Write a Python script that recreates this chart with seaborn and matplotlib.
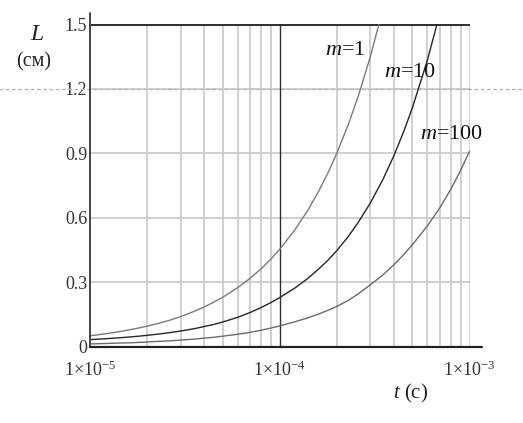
import numpy as np
import pandas as pd
import matplotlib
matplotlib.use("Agg")
import matplotlib.pyplot as plt
import seaborn as sns
from matplotlib.ticker import FixedLocator, NullFormatter, LogLocator

# ---- data ----
t_m1 = [1e-5, 1.2e-5, 1.4e-5, 1.6e-5, 1.8e-5, 2e-5, 2.3e-5, 2.6e-5, 3e-5, 3.5e-5, 4e-5,
        4.5e-5, 5e-5, 6e-5, 7e-5, 8e-5, 9e-5, 1e-4, 1.2e-4, 1.4e-4, 1.6e-4, 1.8e-4,
        2e-4, 2.3e-4, 2.6e-4, 3e-4, 3.5e-4]
L_m1 = [0.050, 0.059, 0.068, 0.077, 0.086, 0.095, 0.108, 0.121, 0.139, 0.162, 0.184,
        0.207, 0.229, 0.274, 0.319, 0.363, 0.408, 0.453, 0.543, 0.632, 0.722, 0.811,
        0.901, 1.035, 1.170, 1.349, 1.573]

t_m10 = [1e-5, 1.2e-5, 1.4e-5, 1.6e-5, 1.8e-5, 2e-5, 2.3e-5, 2.6e-5, 3e-5, 3.5e-5, 4e-5,
         4.5e-5, 5e-5, 6e-5, 7e-5, 8e-5, 9e-5, 1e-4, 1.2e-4, 1.4e-4, 1.6e-4, 1.8e-4,
         2e-4, 2.3e-4, 2.6e-4, 3e-4, 3.5e-4, 4e-4, 4.5e-4, 5e-4, 6e-4, 7e-4]
L_m10 = [0.032, 0.036, 0.040, 0.044, 0.048, 0.052, 0.058, 0.064, 0.072, 0.082, 0.093,
         0.103, 0.114, 0.136, 0.159, 0.182, 0.205, 0.228, 0.272, 0.316, 0.360, 0.403,
         0.447, 0.513, 0.580, 0.668, 0.779, 0.890, 1.001, 1.112, 1.334, 1.556]

t_m100 = [1e-5, 1.2e-5, 1.4e-5, 1.6e-5, 1.8e-5, 2e-5, 2.3e-5, 2.6e-5, 3e-5, 3.5e-5, 4e-5,
          4.5e-5, 5e-5, 6e-5, 7e-5, 8e-5, 9e-5, 1e-4, 1.2e-4, 1.4e-4, 1.6e-4, 1.8e-4,
          2e-4, 2.3e-4, 2.6e-4, 3e-4, 3.5e-4, 4e-4, 4.5e-4, 5e-4, 6e-4, 7e-4, 8e-4,
          9e-4, 1e-3]
L_m100 = [0.012, 0.014, 0.016, 0.017, 0.019, 0.021, 0.024, 0.026, 0.030, 0.034, 0.039,
          0.043, 0.048, 0.057, 0.066, 0.076, 0.086, 0.096, 0.115, 0.133, 0.151, 0.169,
          0.187, 0.215, 0.246, 0.287, 0.334, 0.381, 0.428, 0.474, 0.562, 0.648, 0.735,
          0.822, 0.910]

series_names = ["m=1", "m=10", "m=100"]
y_ticks = [0, 0.3, 0.6, 0.9, 1.2, 1.5]
y_tick_labels = ["0", "0.3", "0.6", "0.9", "1.2", "1.5"]
x_ticks = [1e-5, 1e-4, 1e-3]
x_tick_labels = [r"$1{\times}10^{-5}$", r"$1{\times}10^{-4}$", r"$1{\times}10^{-3}$"]
curve_labels = [r"$m$=1", r"$m$=10", r"$m$=100"]
label_pos = [(2.21e-4, 1.377), (4.88e-4, 1.275), (8.02e-4, 0.988)]

df = pd.concat([
    pd.DataFrame({"t": t_m1, "L": L_m1, "m": series_names[0]}),
    pd.DataFrame({"t": t_m10, "L": L_m10, "m": series_names[1]}),
    pd.DataFrame({"t": t_m100, "L": L_m100, "m": series_names[2]}),
])

sns.set_style("white")
plt.rcParams["font.family"] = ["Liberation Serif", "DejaVu Serif"]
plt.rcParams["mathtext.fontset"] = "custom"
plt.rcParams["mathtext.rm"] = "Liberation Serif"
plt.rcParams["mathtext.it"] = "Liberation Serif:italic"

fig = plt.figure(figsize=(5.23, 4.23), dpi=100)
ax = fig.add_axes([90 / 523, 1 - 346.5 / 423, 379.5 / 523, 322 / 423])
ax.set_xscale("log")
ax.set_xlim(1e-5, 1e-3)
ax.set_ylim(0, 1.5)

# grid
light = "#cdcdcd"
dark = "#2e2e2e"
ax.xaxis.set_minor_locator(LogLocator(base=10, subs=np.arange(2, 10)))
ax.xaxis.set_minor_formatter(NullFormatter())
ax.grid(which="minor", axis="x", color=light, lw=1.3)
for yv in y_ticks[1:-1]:
    ax.axhline(yv, color=light, lw=1.3, zorder=0.5)
for xv in x_ticks[1:]:
    ax.axvline(xv, color=dark, lw=1.0, zorder=1)
ax.axhline(1.5, color=dark, lw=1.4, zorder=1)

palette = {"m=1": "#7a7a7a", "m=10": "#262626", "m=100": "#6a6a6a"}
sns.lineplot(data=df, x="t", y="L", hue="m", palette=palette, legend=False,
             ax=ax, lw=1.0, sort=False, estimator=None, zorder=3)

for s in ax.spines.values():
    s.set_visible(False)
# axes lines (slightly extended like the reference)
ax.plot([1e-5, 1e-5], [0, 1.555], color="#444444", lw=1.4, clip_on=False, zorder=4)
ax.plot([1e-5, 1.17e-3], [0, 0], color="#222222", lw=1.6, clip_on=False, zorder=4)

# dashed scan line across the whole figure at 1.2
ax.axhline(1.2, xmin=-0.24, xmax=1.15, color="#b5b5b5", lw=0.9,
           ls=(0, (3, 2)), clip_on=False, zorder=0.6)

ax.set_yticks(y_ticks)
ax.set_yticklabels(y_tick_labels)
ax.xaxis.set_major_locator(FixedLocator(x_ticks))
ax.set_xticklabels(x_tick_labels)
ax.tick_params(axis="both", which="both", length=0, labelsize=13, colors="#333333")
ax.tick_params(axis="y", pad=2)
ax.tick_params(axis="x", pad=10)
ax.set_xlabel("")
ax.set_ylabel("")

for txt, (xx, yy) in zip(curve_labels, label_pos):
    ax.text(xx, yy, txt, fontsize=16, ha="center", va="center", color="#111111", zorder=5)

fig.text(37 / 523, 1 - 34 / 423, "L", fontsize=17, style="italic", ha="center", va="center", color="#222222")
fig.text(34 / 523, 1 - 62 / 423, "(см)", fontsize=14.5, ha="center", va="center", color="#222222")
fig.text(411 / 523, 1 - 393 / 423, r"$t$ (c)", fontsize=15, ha="center", va="center", color="#222222")

fig.savefig("out.png", dpi=100)
